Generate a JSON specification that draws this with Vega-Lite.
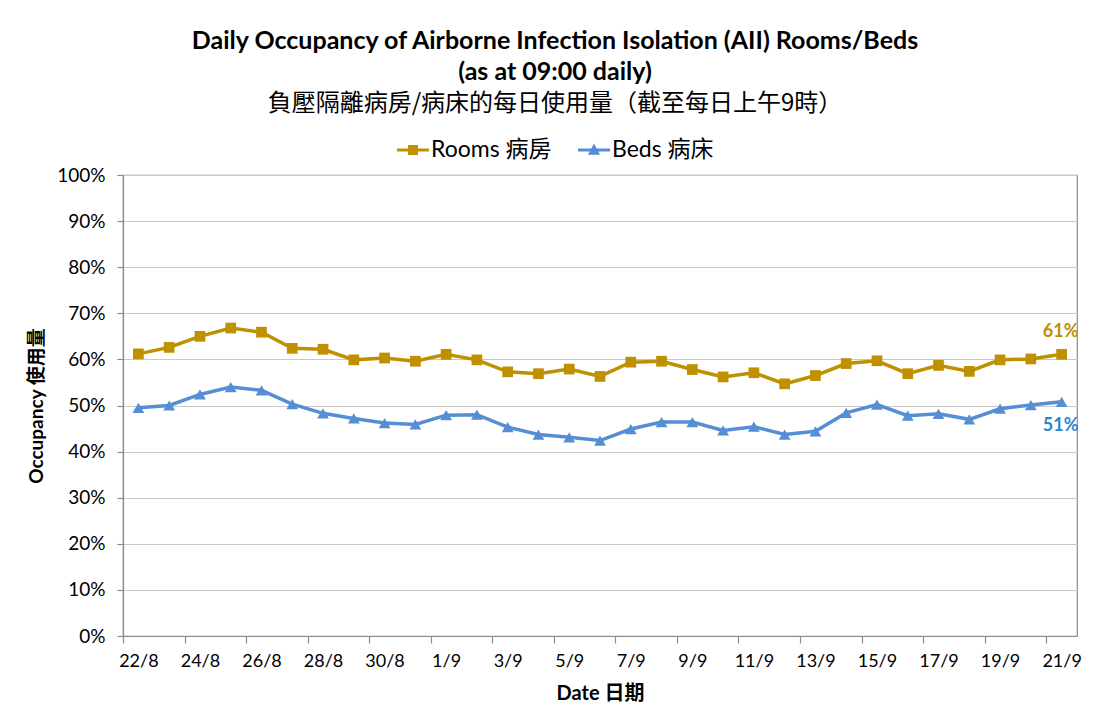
{
  "$schema": "https://vega.github.io/schema/vega-lite/v6.json",
  "width": 954,
  "height": 461,
  "autosize": "none",
  "padding": {"left": 123, "top": 175, "right": 26, "bottom": 86},
  "background": "white",
  "title": {
    "text": ["Daily Occupancy of Airborne Infection Isolation (AII) Rooms/Beds", "(as at 09:00 daily)"],
    "subtitle": "負壓隔離病房/病床的每日使用量（截至每日上午9時）",
    "anchor": "middle",
    "dx": -45,
    "offset": 18,
    "font": "Lato",
    "fontSize": 25,
    "fontWeight": "bold",
    "lineHeight": 31,
    "color": "#000000",
    "subtitleFont": "Noto Sans CJK TC",
    "subtitleFontSize": 24,
    "subtitleColor": "#000000",
    "subtitlePadding": 7
  },
  "data": {
    "values": [
      {"date": "22/8", "series": "Rooms 病房", "value": 0.612},
      {"date": "23/8", "series": "Rooms 病房", "value": 0.626},
      {"date": "24/8", "series": "Rooms 病房", "value": 0.650},
      {"date": "25/8", "series": "Rooms 病房", "value": 0.668},
      {"date": "26/8", "series": "Rooms 病房", "value": 0.659},
      {"date": "27/8", "series": "Rooms 病房", "value": 0.624},
      {"date": "28/8", "series": "Rooms 病房", "value": 0.622},
      {"date": "29/8", "series": "Rooms 病房", "value": 0.599},
      {"date": "30/8", "series": "Rooms 病房", "value": 0.603},
      {"date": "31/8", "series": "Rooms 病房", "value": 0.596},
      {"date": "1/9", "series": "Rooms 病房", "value": 0.611},
      {"date": "2/9", "series": "Rooms 病房", "value": 0.599},
      {"date": "3/9", "series": "Rooms 病房", "value": 0.573},
      {"date": "4/9", "series": "Rooms 病房", "value": 0.569},
      {"date": "5/9", "series": "Rooms 病房", "value": 0.579},
      {"date": "6/9", "series": "Rooms 病房", "value": 0.563},
      {"date": "7/9", "series": "Rooms 病房", "value": 0.594},
      {"date": "8/9", "series": "Rooms 病房", "value": 0.596},
      {"date": "9/9", "series": "Rooms 病房", "value": 0.578},
      {"date": "10/9", "series": "Rooms 病房", "value": 0.562},
      {"date": "11/9", "series": "Rooms 病房", "value": 0.571},
      {"date": "12/9", "series": "Rooms 病房", "value": 0.547},
      {"date": "13/9", "series": "Rooms 病房", "value": 0.565},
      {"date": "14/9", "series": "Rooms 病房", "value": 0.591},
      {"date": "15/9", "series": "Rooms 病房", "value": 0.597},
      {"date": "16/9", "series": "Rooms 病房", "value": 0.569},
      {"date": "17/9", "series": "Rooms 病房", "value": 0.587},
      {"date": "18/9", "series": "Rooms 病房", "value": 0.574},
      {"date": "19/9", "series": "Rooms 病房", "value": 0.599},
      {"date": "20/9", "series": "Rooms 病房", "value": 0.601},
      {"date": "21/9", "series": "Rooms 病房", "value": 0.611},
      {"date": "22/8", "series": "Beds 病床", "value": 0.495},
      {"date": "23/8", "series": "Beds 病床", "value": 0.500},
      {"date": "24/8", "series": "Beds 病床", "value": 0.524},
      {"date": "25/8", "series": "Beds 病床", "value": 0.540},
      {"date": "26/8", "series": "Beds 病床", "value": 0.533},
      {"date": "27/8", "series": "Beds 病床", "value": 0.503},
      {"date": "28/8", "series": "Beds 病床", "value": 0.483},
      {"date": "29/8", "series": "Beds 病床", "value": 0.472},
      {"date": "30/8", "series": "Beds 病床", "value": 0.462},
      {"date": "31/8", "series": "Beds 病床", "value": 0.459},
      {"date": "1/9", "series": "Beds 病床", "value": 0.479},
      {"date": "2/9", "series": "Beds 病床", "value": 0.480},
      {"date": "3/9", "series": "Beds 病床", "value": 0.453},
      {"date": "4/9", "series": "Beds 病床", "value": 0.437},
      {"date": "5/9", "series": "Beds 病床", "value": 0.431},
      {"date": "6/9", "series": "Beds 病床", "value": 0.424},
      {"date": "7/9", "series": "Beds 病床", "value": 0.449},
      {"date": "8/9", "series": "Beds 病床", "value": 0.464},
      {"date": "9/9", "series": "Beds 病床", "value": 0.464},
      {"date": "10/9", "series": "Beds 病床", "value": 0.446},
      {"date": "11/9", "series": "Beds 病床", "value": 0.454},
      {"date": "12/9", "series": "Beds 病床", "value": 0.437},
      {"date": "13/9", "series": "Beds 病床", "value": 0.444},
      {"date": "14/9", "series": "Beds 病床", "value": 0.484},
      {"date": "15/9", "series": "Beds 病床", "value": 0.502},
      {"date": "16/9", "series": "Beds 病床", "value": 0.478},
      {"date": "17/9", "series": "Beds 病床", "value": 0.482},
      {"date": "18/9", "series": "Beds 病床", "value": 0.470},
      {"date": "19/9", "series": "Beds 病床", "value": 0.493},
      {"date": "20/9", "series": "Beds 病床", "value": 0.501},
      {"date": "21/9", "series": "Beds 病床", "value": 0.508}
    ]
  },
  "encoding": {
    "x": {
      "field": "date",
      "type": "ordinal",
      "sort": ["22/8","23/8","24/8","25/8","26/8","27/8","28/8","29/8","30/8","31/8","1/9","2/9","3/9","4/9","5/9","6/9","7/9","8/9","9/9","10/9","11/9","12/9","13/9","14/9","15/9","16/9","17/9","18/9","19/9","20/9","21/9"],
      "scale": {"type": "band", "paddingInner": 0, "paddingOuter": 0},
      "axis": {
        "tickBand": "extent",
        "labelAngle": 0,
        "labelFontSize": 18,
        "labelPadding": 9,
        "labelOverlap": false,
        "labelExpr": "indexof(['22/8','24/8','26/8','28/8','30/8','1/9','3/9','5/9','7/9','9/9','11/9','13/9','15/9','17/9','19/9','21/9'], datum.value) >= 0 ? datum.label : ''",
        "tickOpacity": {
          "condition": {"test": "datum.extra || indexof(['23/8','25/8','27/8','29/8','31/8','2/9','4/9','6/9','8/9','10/9','12/9','14/9','16/9','18/9','20/9'], datum.value) >= 0", "value": 1},
          "value": 0
        },
        "tickSize": 7,
        "title": "Date 日期",
        "titleFontSize": 20,
        "titlePadding": 13
      }
    },
    "y": {
      "field": "value",
      "type": "quantitative",
      "scale": {"domain": [0, 1]},
      "axis": {
        "values": [0, 0.1, 0.2, 0.3, 0.4, 0.5, 0.6, 0.7, 0.8, 0.9, 1],
        "format": ".0%",
        "labelFontSize": 19,
        "labelPadding": 12,
        "tickSize": 6,
        "grid": true,
        "title": "Occupancy 使用量",
        "titleFontSize": 19,
        "titlePadding": 10
      }
    }
  },
  "layer": [
    {
      "transform": [{"filter": "datum.series === 'Rooms 病房'"}],
      "mark": {"type": "line", "color": "#BF9000", "strokeWidth": 3.5}
    },
    {
      "transform": [{"filter": "datum.series === 'Beds 病床'"}],
      "mark": {"type": "line", "color": "#558ED5", "strokeWidth": 3.5}
    },
    {
      "transform": [{"filter": "datum.series === 'Rooms 病房'"}],
      "mark": {"type": "point", "shape": "square", "filled": true, "color": "#BF9000", "opacity": 1, "size": 115}
    },
    {
      "transform": [{"filter": "datum.series === 'Beds 病床'"}],
      "mark": {"type": "point", "shape": "triangle-up", "filled": true, "color": "#558ED5", "opacity": 1, "size": 140}
    },
    {
      "transform": [{"filter": "datum.series === 'Rooms 病房' && datum.date === '21/9'"}],
      "mark": {"type": "text", "color": "#BF9000", "fontWeight": "bold", "fontSize": 18, "dy": -22, "dx": -1},
      "encoding": {"text": {"field": "value", "type": "quantitative", "format": ".0%"}}
    },
    {
      "transform": [{"filter": "datum.series === 'Beds 病床' && datum.date === '21/9'"}],
      "mark": {"type": "text", "color": "#2E86D0", "fontWeight": "bold", "fontSize": 18, "dy": 24, "dx": -1},
      "encoding": {"text": {"field": "value", "type": "quantitative", "format": ".0%"}}
    },
    {
      "mark": {"type": "point", "filled": true, "opacity": 0, "size": 1024},
      "encoding": {
        "color": {
          "field": "series",
          "type": "nominal",
          "scale": {"domain": ["Rooms 病房", "Beds 病床"], "range": ["#BF9000", "#558ED5"]},
          "legend": {"title": null}
        },
        "shape": {
          "field": "series",
          "type": "nominal",
          "scale": {
            "domain": ["Rooms 病房", "Beds 病床"],
            "range": [
              "M-1,-0.1H1V0.1H-1Z M-0.31,-0.31H0.31V0.31H-0.31Z",
              "M-1,-0.1H1V0.1H-1Z M0,-0.4L0.38,0.3H-0.38Z"
            ]
          },
          "legend": {"title": null}
        }
      }
    }
  ],
  "config": {
    "font": "Lato, 'Noto Sans CJK TC'",
    "view": {"stroke": "#8C8C8C", "strokeWidth": 1.2},
    "axis": {
      "labelColor": "#000000",
      "titleColor": "#000000",
      "titleFontWeight": "bold",
      "domainColor": "#8C8C8C",
      "tickColor": "#8C8C8C",
      "gridColor": "#C8C8C8",
      "domainWidth": 1.2,
      "tickWidth": 1.2,
      "labelFont": "Lato, 'Noto Sans CJK TC'",
      "titleFont": "Lato, 'Noto Sans CJK TC'"
    },
    "axisX": {"grid": false},
    "legend": {
      "orient": "none",
      "legendX": 274,
      "legendY": -41,
      "direction": "horizontal",
      "symbolSize": 1024,
      "symbolOpacity": 1,
      "symbolStrokeWidth": 0,
      "labelFontSize": 23,
      "labelColor": "#000000",
      "labelFont": "Lato, 'Noto Sans CJK TC'",
      "labelOffset": 2,
      "columnPadding": 26,
      "labelLimit": 300
    }
  }
}
